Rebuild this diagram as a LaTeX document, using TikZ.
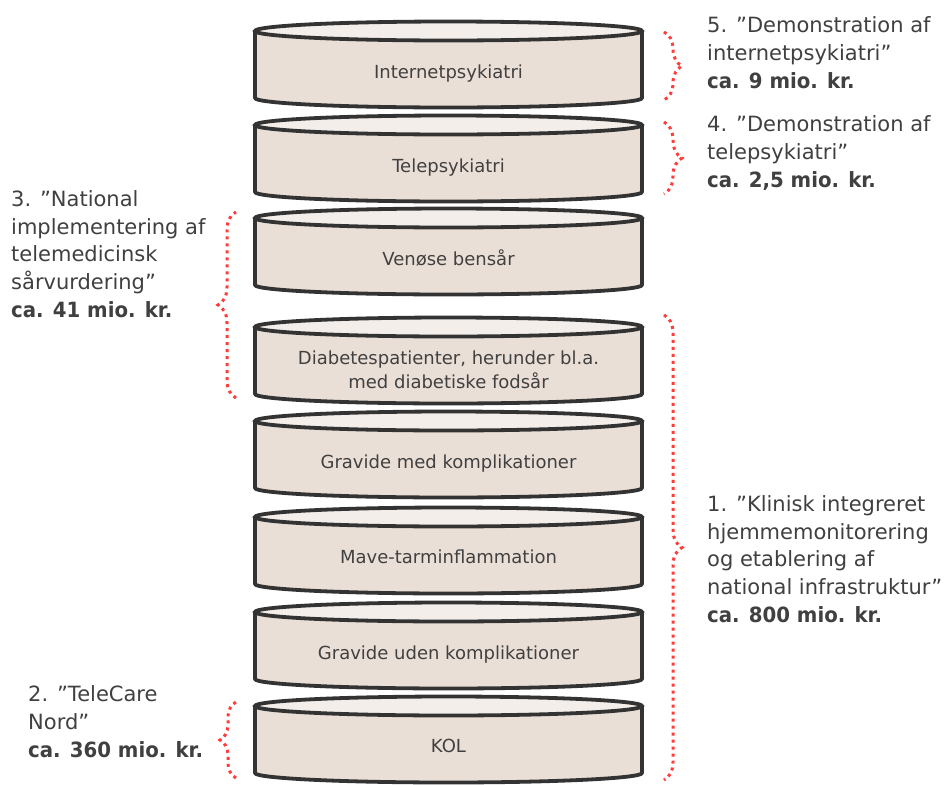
\documentclass[tikz,border=0pt]{standalone}
\usepackage{fontspec}
\setmainfont{DejaVu Sans}[BoldFeatures={FakeStretch=0.94}]
\usetikzlibrary{decorations.pathreplacing}
\definecolor{rim}{HTML}{333333}
\definecolor{bodyfill}{HTML}{EADFD7}
\definecolor{topfill}{HTML}{F4EEEA}
\definecolor{dotred}{HTML}{FF3B3B}
\definecolor{txt}{HTML}{404040}
\tikzset{
  x=1pt, y=1pt,
  drumbody/.style={draw=rim, fill=bodyfill, line width=3.8pt, line join=round},
  drumtop/.style={draw=rim, fill=topfill, line width=3.8pt},
  drumtext/.style={text=txt, font=\fontsize{18}{23.5}\selectfont, align=center, inner sep=0pt, anchor=base},
  sidelabel/.style={text=txt, font=\fontsize{21}{27.6}\selectfont, align=left, inner sep=0pt, anchor=base west},
  dotbrace/.style={draw=dotred, line width=3pt, dash pattern=on 3pt off 4pt, decorate},
}
\newcommand\drum[4]{%
  \filldraw[drumbody] (255,-#2) -- (255,-#2-67) arc[start angle=180,end angle=360,x radius=193.5,y radius=9.5] -- (642,-#2) -- cycle;
  \filldraw[drumtop] (448.5,-#2) ellipse[x radius=193.5, y radius=9.5];
  \node[drumtext] (#1) at (448.5,-#3) {#4};
}
\begin{document}
\begin{tikzpicture}
\fill[white] (0,0) rectangle (946,-785);
\useasboundingbox (0,0) rectangle (946,-785);

\drum{c1}{31}{78}{Internetpsykiatri}
\drum{c2}{125}{172}{Telepsykiatri}
\drum{c3}{218}{265}{Venøse bensår}
\drum{c4}{327}{388}{Diabetespatienter, herunder bl.a.\\med diabetiske fodsår}
\drum{c5}{421}{468}{Gravide med komplikationer}
\drum{c6}{517}{563}{Mave-tarminflammation}
\drum{c7}{612}{659}{Gravide uden komplikationer}
\drum{c8}{706}{752}{KOL}

% braces
\coordinate (b5a) at (664,-32);  \coordinate (b5b) at (664,-100);
\coordinate (b4a) at (664,-122); \coordinate (b4b) at (664,-194);
\coordinate (b1a) at (664,-315); \coordinate (b1b) at (664,-780);
\coordinate (b3a) at (236,-398); \coordinate (b3b) at (236,-212);
\coordinate (b2a) at (236,-778); \coordinate (b2b) at (236,-702);
\draw[dotbrace, decoration={brace, amplitude=18pt}] (b5a) -- (b5b);
\draw[dotbrace, decoration={brace, amplitude=18pt}] (b4a) -- (b4b);
\draw[dotbrace, decoration={brace, amplitude=18pt}] (b1a) -- (b1b);
\draw[dotbrace, decoration={brace, amplitude=18pt}] (b3a) -- (b3b);
\draw[dotbrace, decoration={brace, amplitude=16pt}] (b2a) -- (b2b);

% labels (anchor = baseline of last line)
\node[sidelabel] (l5) at (707,-88) {5. ”Demonstration af\\internetpsykiatri”\\\textbf{ca. 9 mio. kr.}};
\node[sidelabel] (l4) at (707,-187) {4. ”Demonstration af\\telepsykiatri”\\\textbf{ca. 2,5 mio. kr.}};
\node[sidelabel] (l3) at (11,-317) {3. ”National\\implementering af\\telemedicinsk\\sårvurdering”\\\textbf{ca. 41 mio. kr.}};
\node[sidelabel] (l1) at (707,-622) {1. ”Klinisk integreret\\hjemmemonitorering\\og etablering af\\national infrastruktur”\\\textbf{ca. 800 mio. kr.}};
\node[sidelabel] (l2) at (28,-757) {2. ”TeleCare\\Nord”\\\textbf{ca. 360 mio. kr.}};
\end{tikzpicture}
\end{document}
